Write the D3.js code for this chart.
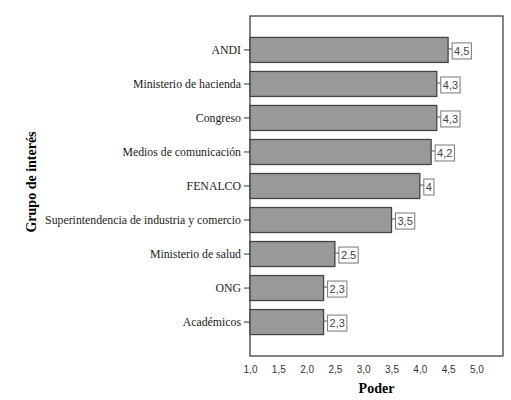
<!DOCTYPE html>
<html>
<head>
<meta charset="utf-8">
<title>Poder por grupo de interés</title>
<script src="https://cdn.jsdelivr.net/npm/d3@7/dist/d3.min.js"></script>
<style>
  body { margin: 0; background: #fff; }
</style>
</head>
<body>
<script>
// datos
var grupos = ["ANDI", "Ministerio de hacienda", "Congreso", "Medios de comunicación", "FENALCO",
              "Superintendencia de industria y comercio", "Ministerio de salud", "ONG", "Académicos"];
var poder = [4.5, 4.3, 4.3, 4.2, 4.0, 3.5, 2.5, 2.3, 2.3];
var etiquetas = ["4,5", "4,3", "4,3", "4,2", "4", "3,5", "2.5", "2,3", "2,3"];
var ticksX = [1.0, 1.5, 2.0, 2.5, 3.0, 3.5, 4.0, 4.5, 5.0];

var width = 511, height = 400;
// ojo: "top" es window.top, por eso otros nombres
var mIzq = 250, mDer = 503, mSup = 16, mInf = 356;

var svg = d3.select("body").append("svg")
    .attr("width", width)
    .attr("height", height);

var x = d3.scaleLinear().domain([1, 5.47]).range([mIzq, mDer]);
var y = d3.scaleBand().domain(grupos).range([mSup, mInf]).paddingInner(0.265).paddingOuter(0.63);

// marco
svg.append("rect")
    .attr("x", mIzq).attr("y", mSup)
    .attr("width", mDer - mIzq).attr("height", mInf - mSup)
    .attr("fill", "none").attr("stroke", "#333").attr("stroke-width", 1.2);

// barras
svg.selectAll(".barra")
    .data(grupos)
    .enter()
    .append("rect")
    .attr("class", "barra")
    .attr("x", x(1))
    .attr("y", d => y(d))
    .attr("width", (d, i) => x(poder[i]) - x(1))
    .attr("height", y.bandwidth())
    .attr("fill", "#999")
    .attr("stroke", "#444")
    .attr("stroke-width", 1.3);

// eje y (categorías)
var ejeY = svg.append("g")
    .attr("transform", "translate(" + mIzq + ",0)")
    .call(d3.axisLeft(y).tickSize(6).tickPadding(3));
ejeY.select(".domain").remove();
ejeY.selectAll("line").attr("stroke", "#333");
ejeY.selectAll("text")
    .attr("font-family", "Liberation Serif, serif")
    .attr("font-size", 11.8)
    .attr("fill", "#222");

// eje x
var ejeX = svg.append("g")
    .attr("transform", "translate(0," + mInf + ")")
    .call(d3.axisBottom(x).tickValues(ticksX).tickSize(0).tickPadding(10)
        .tickFormat(d => d3.format(".1f")(d).replace(".", ",")));
ejeX.select(".domain").remove();
ejeX.selectAll("text")
    .attr("font-family", "Liberation Sans, Arial, sans-serif")
    .attr("font-size", 10)
    .attr("fill", "#333");

// etiquetas de valor
var etq = svg.selectAll(".etq")
    .data(grupos)
    .enter()
    .append("g")
    .attr("class", "etq")
    .attr("transform", (d, i) => "translate(" + x(poder[i]) + "," + (y(d) + y.bandwidth() / 2) + ")");

etq.append("line")
    .attr("x1", 0).attr("x2", 4)
    .attr("y1", -1).attr("y2", -1)
    .attr("stroke", "#555");

etq.append("text")
    .attr("x", 6)
    .attr("y", 5)
    .attr("font-family", "Liberation Sans, Arial, sans-serif")
    .attr("font-size", 11)
    .attr("fill", "#444")
    .text((d, i) => etiquetas[i]);

etq.each(function() {
    var g = d3.select(this);
    var bb = g.select("text").node().getBBox();
    g.insert("rect", "text")
        .attr("x", 4)
        .attr("y", -7)
        .attr("width", bb.width + 4)
        .attr("height", 16)
        .attr("fill", "#fff")
        .attr("stroke", "#777");
});

// títulos
svg.append("text")
    .attr("x", (mIzq + mDer) / 2)
    .attr("y", 393)
    .attr("text-anchor", "middle")
    .attr("font-family", "Liberation Serif, serif")
    .attr("font-weight", "bold")
    .attr("font-size", 14)
    .text("Poder");

svg.append("text")
    .attr("transform", "translate(36,182) rotate(-90)")
    .attr("text-anchor", "middle")
    .attr("font-family", "Liberation Serif, serif")
    .attr("font-weight", "bold")
    .attr("font-size", 14)
    .text("Grupo de interés");
</script>
</body>
</html>
